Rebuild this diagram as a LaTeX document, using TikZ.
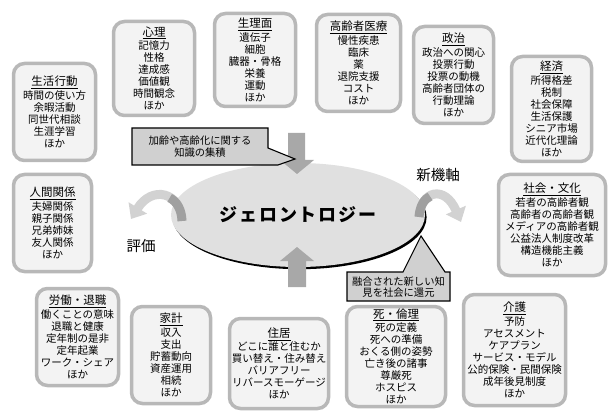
\documentclass[tikz,border=0pt]{standalone}
\usepackage{fontspec}
\newfontfamily\jp{Noto Sans CJK JP}
\usetikzlibrary{arrows.meta,shapes.geometric,shadows}
\definecolor{boxline}{HTML}{B8B8B8}
\definecolor{boxfill}{HTML}{F3F3F3}
\definecolor{callfill}{HTML}{D0D0D0}
\definecolor{ellfill}{HTML}{E0E0E0}
\definecolor{barrow}{HTML}{A8A8A8}
\definecolor{carrowlight}{HTML}{D2D2D2}
\definecolor{carrowdark}{HTML}{A0A0A0}
\newcommand\topichead[1]{{\fontsize{11.5}{12}\selectfont\underline{#1}}\\[1.5pt]}
\begin{document}
\begin{tikzpicture}[x=1pt,y=-1pt,
  topic/.style={draw=boxline, line width=3.5pt, fill=boxfill, rounded corners=11pt,
    inner sep=0pt, align=center, font=\jp\fontsize{10.5}{12}\selectfont},
  callout/.style={draw=black, line width=1.1pt, fill=callfill, line join=miter},
  calltext/.style={inner sep=0pt, align=center, font=\jp\fontsize{10.3}{11.5}\selectfont},
  blockarrow/.style={fill=barrow},
  curvearrow/.style={line width=9pt, draw=carrowlight, -{Triangle[width=21pt,length=13pt]}},
  curvestart/.style={line width=9pt, draw=carrowdark},
  axislabel/.style={inner sep=0pt, font=\jp\fontsize{14.5}{15}\selectfont}
]
\useasboundingbox (0,0) rectangle (609,411);

% topic boxes
\node[topic, minimum width=81pt, minimum height=94pt] (shinri) at (154,68.5)
  {\topichead{心理}記憶力\\性格\\達成感\\価値観\\時間観念\\ほか};
\node[topic, minimum width=82pt, minimum height=97pt] (seikatsu) at (54.5,112)
  {\topichead{生活行動}時間の使い方\\余暇活動\\同世代相談\\生涯学習\\ほか};
\node[topic, minimum width=81pt, minimum height=93pt] (seiri) at (255,60)
  {\topichead{生理面}遺伝子\\細胞\\臓器・骨格\\栄養\\運動\\ほか};
\node[topic, minimum width=84pt, minimum height=97pt] (iryo) at (358.5,63)
  {\topichead{高齢者医療}慢性疾患\\臨床\\薬\\退院支援\\コスト\\ほか};
\node[topic, minimum width=80pt, minimum height=97pt] (seiji) at (453.5,75)
  {\topichead{政治}政治への関心\\投票行動\\投票の動機\\高齢者団体の\\行動理論\\ほか};
\node[topic, minimum width=80pt, minimum height=105pt] (keizai) at (551.5,109)
  {\topichead{経済}所得格差\\税制\\社会保障\\生活保護\\シニア市場\\近代化理論\\ほか};
\node[topic, minimum width=78pt, minimum height=97pt] (ningen) at (52.5,223)
  {\topichead{人間関係}夫婦関係\\親子関係\\兄弟姉妹\\友人関係\\ほか};
\node[topic, minimum width=107pt, minimum height=101pt] (shakai) at (552,225)
  {\topichead{社会・文化}若者の高齢者観\\高齢者の高齢者観\\メディアの高齢者観\\公益法人制度改革\\構造機能主義\\ほか};
\node[topic, minimum width=82pt, minimum height=97pt] (rodo) at (77.5,337)
  {\topichead{労働・退職}働くことの意味\\退職と健康\\定年制の是非\\定年起業\\ワーク・シェア\\ほか};
\node[topic, minimum width=79pt, minimum height=97pt] (kakei) at (171,355)
  {\topichead{家計}収入\\支出\\貯蓄動向\\資産運用\\相続\\ほか};
\node[topic, minimum width=99pt, minimum height=90pt] (jukyo) at (279,363.5)
  {\topichead{住居}どこに誰と住むか\\買い替え・住み替え\\バリアフリー\\リバースモーゲージ\\ほか};
\node[topic, minimum width=99pt, minimum height=100pt] (shi) at (396,356.5)
  {\topichead{死・倫理}死の定義\\死への準備\\おくる側の姿勢\\亡き後の諸事\\尊厳死\\ホスピス\\ほか};
\node[topic, minimum width=102pt, minimum height=111pt] (kaigo) at (514.5,350)
  {\topichead{介護}予防\\アセスメント\\ケアプラン\\サービス・モデル\\公的保険・民間保険\\成年後見制度\\ほか};

% central ellipse
\node[ellipse, fill=ellfill, minimum width=254pt, minimum height=104pt, inner sep=0pt,
  drop shadow={shadow xshift=1.6pt, shadow yshift=-2.2pt, fill=black, opacity=1},
  font=\jp\bfseries\fontsize{18}{19}\selectfont\addfontfeature{LetterSpace=10}] (gero) at (298,215)
  {ジェロントロジー};

% block arrows
\fill[blockarrow] (288,133) -- (305,133) -- (305,160) -- (314,160) -- (297,174) -- (280,160) -- (288,160) -- cycle;
\fill[blockarrow] (288,287) -- (306,287) -- (306,261) -- (314,261) -- (297,247) -- (280,261) -- (288,261) -- cycle;

% curved arrows
\draw[curvearrow] (182,221) .. controls (181,192) and (152,185) .. (131,219);
\draw[curvestart] (182,221) .. controls (181.6,209.4) and (176.72,201.32) .. (169.66,197.91);
\draw[curvearrow] (419,217) .. controls (421,190) and (445,185) .. (461,222);
\draw[curvestart] (419,217) .. controls (419.8,206.2) and (424.12,198.92) .. (430.04,196.44);

% callouts
\draw[callout] (132,128) -- (268,128) -- (268,148) -- (295,159) -- (278,165) -- (132,165) -- cycle;
\node[calltext] (callA) at (200,146.5) {加齢や高齢化に関する\\知識の集積};
\draw[callout] (347,272) -- (403,272) -- (421,236) -- (445,272) -- (450,272) -- (450,301) -- (347,301) -- cycle;
\node[calltext] (callB) at (398.5,287) {融合された新しい知\\見を社会に還元};

% axis labels
\node[axislabel] (hyoka) at (141,246) {評価};
\node[axislabel] (shinkijiku) at (438,175) {新機軸};
\end{tikzpicture}
\end{document}
